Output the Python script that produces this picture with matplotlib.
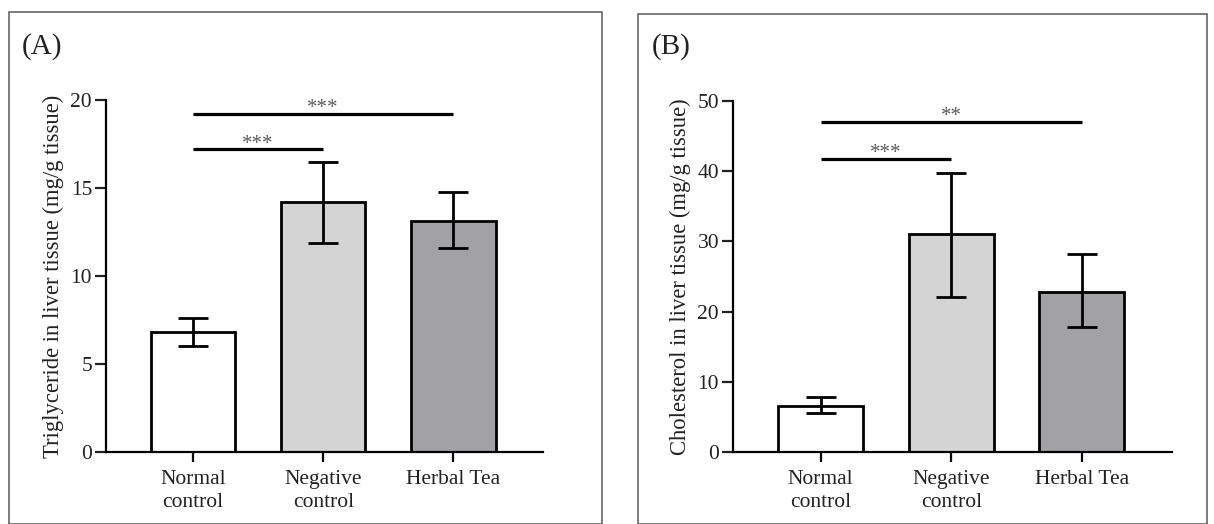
import numpy as np
import matplotlib
matplotlib.use("Agg")
import matplotlib.pyplot as plt
from matplotlib.patches import Rectangle

plt.rcParams['font.family'] = ['Liberation Serif', 'DejaVu Serif']

groups = ["Normal\ncontrol", "Negative\ncontrol", "Herbal Tea"]
bar_colors = ["#ffffff", "#d4d4d4", "#a2a1a6"]

# (A) triglyceride
tg_mean = [6.8, 14.2, 13.1]
tg_low = [6.0, 11.9, 11.6]
tg_high = [7.6, 16.5, 14.8]
tg_sig = [(0, 2, 19.2, "***"), (0, 1, 17.2, "***")]

# (B) cholesterol
ch_mean = [6.5, 31.0, 22.8]
ch_low = [5.5, 22.1, 17.8]
ch_high = [7.9, 39.8, 28.2]
ch_sig = [(0, 2, 47.0, "**"), (0, 1, 41.7, "***")]


def panel(ax, mean, low, high, sig, ymax, step, ylabel):
    x = np.arange(len(mean))
    m = np.array(mean)
    yerr = [m - np.array(low), np.array(high) - m]
    ax.bar(x, mean, width=0.65, color=bar_colors, edgecolor="black",
           linewidth=2.0, zorder=2)
    ax.errorbar(x, mean, yerr=yerr, fmt="none", ecolor="black",
                elinewidth=2.0, capsize=11, capthick=2.0, zorder=3)
    for a, b, y, s in sig:
        ax.plot([a, b], [y, y], color="black", lw=2.3, solid_capstyle="butt",
                clip_on=False)
        ax.text((a + b) / 2, y - ymax * 0.012, s, ha="center", va="bottom",
                fontsize=15, color="#5a5a5a")
    ax.set_xlim(-0.67, 2.69)
    ax.set_ylim(0, ymax)
    ax.set_yticks(np.arange(0, ymax + 1, step))
    ax.set_xticks(x)
    ax.set_xticklabels(groups, fontsize=15.5, color="#222222", linespacing=1.3)
    ax.tick_params(axis="y", labelsize=15.5, length=8, width=1.6, pad=2,
                   colors="#222222")
    ax.tick_params(axis="x", length=7, width=1.6, pad=6)
    ax.spines["top"].set_visible(False)
    ax.spines["right"].set_visible(False)
    for sp in ("left", "bottom"):
        ax.spines[sp].set_linewidth(1.6)
    ax.set_ylabel(ylabel, fontsize=16.3, color="#222222", labelpad=5)


fig = plt.figure(figsize=(12.14, 5.24), dpi=100)
W, H = 1214, 524

# panel frames
fig.add_artist(Rectangle((9 / W, 0), 593 / W, (H - 12) / H, transform=fig.transFigure,
                         fill=False, edgecolor="#666666", lw=1.2))
fig.add_artist(Rectangle((638 / W, 0), 569 / W, (H - 14) / H, transform=fig.transFigure,
                         fill=False, edgecolor="#666666", lw=1.2))

ax1 = fig.add_axes([106 / W, 72 / H, 437 / W, 352 / H])
panel(ax1, tg_mean, tg_low, tg_high, tg_sig, 20, 5,
      "Triglyceride in liver tissue (mg/g tissue)")
ax2 = fig.add_axes([733 / W, 72 / H, 439 / W, 351 / H])
panel(ax2, ch_mean, ch_low, ch_high, ch_sig, 50, 10,
      "Cholesterol in liver tissue (mg/g tissue)")

fig.text(22 / W, 1 - 47 / H, "(A)", fontsize=21, va="center", color="#222222")
fig.text(652 / W, 1 - 47 / H, "(B)", fontsize=21, va="center", color="#222222")

plt.savefig("out.png", dpi=100)
plt.close()
